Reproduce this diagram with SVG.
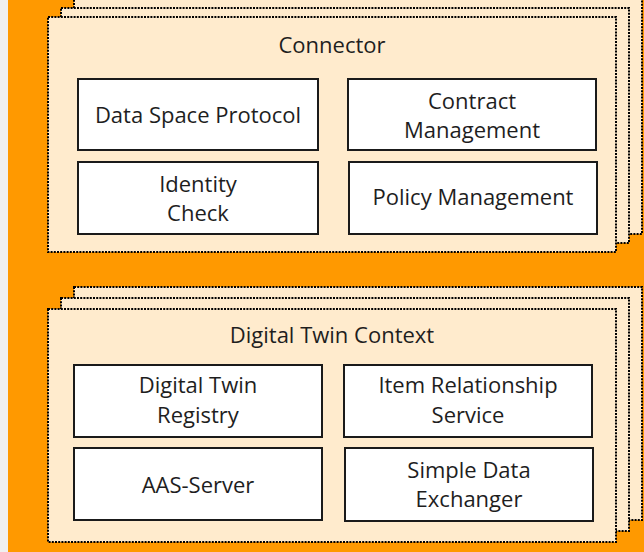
<svg xmlns="http://www.w3.org/2000/svg" width="644" height="552" viewBox="0 0 644 552">
<style>
.stack{fill:#FFEBCD;stroke:#000;stroke-width:2;stroke-dasharray:2 1.2}
.box{fill:#fff;stroke:#1a1a1a;stroke-width:2}
text{font-family:"Open Sans","Noto Sans",sans-serif;font-size:22px;fill:#1e1e1e;text-anchor:middle}
</style>
<rect x="0" y="0" width="644" height="552" fill="#F0F0F0"/>
<rect x="8" y="0" width="636" height="552" fill="#FF9900"/>
<g id="connector">
<rect class="stack" x="74" y="-1" width="568" height="235"/>
<rect class="stack" x="61" y="8" width="568" height="235"/>
<rect class="stack" x="48" y="17" width="568" height="235"/>
<text x="332" y="53">Connector</text>
</g>
<g id="dsp"><rect class="box" x="78" y="79" width="240" height="71"/><text x="198" y="123">Data Space Protocol</text></g>
<g id="contract"><rect class="box" x="348" y="79" width="248" height="71"/><text x="472" y="109">Contract</text><text x="472" y="138">Management</text></g>
<g id="identity"><rect class="box" x="78" y="162" width="240" height="72"/><text x="198" y="192">Identity</text><text x="198" y="221">Check</text></g>
<g id="policy"><rect class="box" x="349" y="162" width="248" height="72"/><text x="473" y="205">Policy Management</text></g>
<g id="dtcontext">
<rect class="stack" x="74" y="287" width="568" height="233"/>
<rect class="stack" x="61" y="298" width="568" height="233"/>
<rect class="stack" x="48" y="309" width="568" height="233"/>
<text x="332" y="343">Digital Twin Context</text>
</g>
<g id="registry"><rect class="box" x="74" y="365" width="248" height="72"/><text x="198" y="393">Digital Twin</text><text x="198" y="423">Registry</text></g>
<g id="irs"><rect class="box" x="344" y="365" width="248" height="72"/><text x="468" y="393">Item Relationship</text><text x="468" y="423">Service</text></g>
<g id="aas"><rect class="box" x="74" y="448" width="248" height="72"/><text x="198" y="493">AAS-Server</text></g>
<g id="sde"><rect class="box" x="345" y="448" width="248" height="73"/><text x="469" y="478">Simple Data</text><text x="469" y="507">Exchanger</text></g>
<g id="connectors"></g>
</svg>
